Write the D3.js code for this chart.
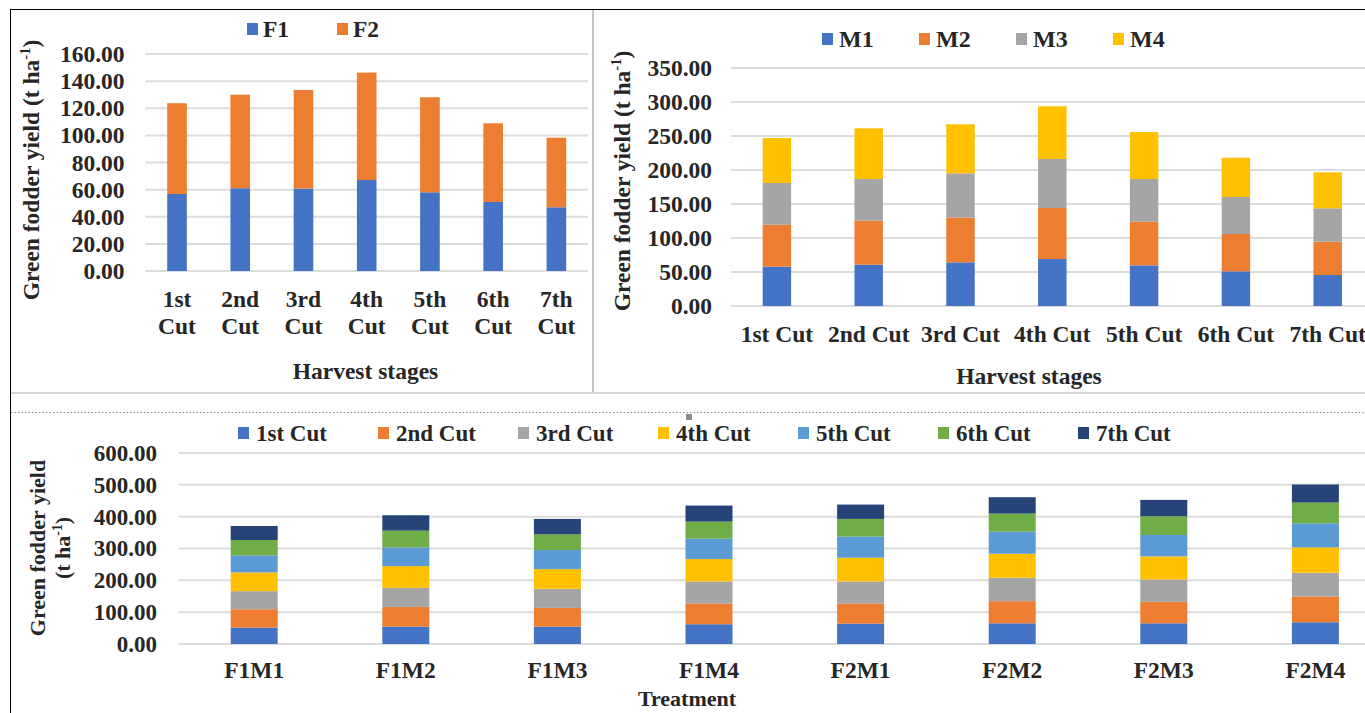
<!DOCTYPE html>
<html>
<head>
<meta charset="utf-8">
<script src="https://cdn.jsdelivr.net/npm/d3@7"></script>
<style>
  html, body { margin: 0; padding: 0; background: #fff; }
  svg { display: block; }
  text { font-family: "Liberation Serif", "Times New Roman", serif; font-weight: bold; fill: #262626; }
</style>
</head>
<body>
<svg id="chart" width="1365" height="713"></svg>
<script>
// ---------- DATA ----------
const cuts = ["1st Cut", "2nd Cut", "3rd Cut", "4th Cut", "5th Cut", "6th Cut", "7th Cut"];

// Chart A: F levels by harvest stage
const fSeries = ["F1", "F2"];
const F1 = [56.8, 61.0, 60.7, 67.1, 58.0, 50.9, 47.0];
const F2 = [66.9, 69.0, 72.8, 79.2, 70.1, 58.0, 51.3];
const yTicksA = [0, 20, 40, 60, 80, 100, 120, 140, 160];

// Chart B: M levels by harvest stage
const mSeries = ["M1", "M2", "M3", "M4"];
const M1 = [57.8, 60.8, 64.2, 69.1, 59.8, 51.0, 45.6];
const M2 = [61.8, 64.7, 65.7, 75.0, 64.2, 54.9, 49.0];
const M3 = [61.3, 61.3, 65.2, 72.1, 62.8, 54.4, 49.0];
const M4 = [66.2, 74.5, 72.1, 77.4, 69.1, 57.8, 53.0];
const yTicksB = [0, 50, 100, 150, 200, 250, 300, 350];

// Chart C: treatments, stacked by cut
const treatments = ["F1M1", "F1M2", "F1M3", "F1M4", "F2M1", "F2M2", "F2M3", "F2M4"];
const cut1 = [51.5, 54.6, 54.6, 62.0, 64.1, 65.1, 65.1, 68.3];
const cut2 = [57.7, 62.0, 58.8, 65.1, 63.0, 69.4, 67.3, 80.9];
const cut3 = [56.8, 59.9, 59.9, 69.3, 69.3, 73.5, 70.3, 74.5];
const cut4 = [58.8, 68.2, 62.0, 70.4, 74.6, 75.6, 72.5, 79.9];
const cut5 = [53.6, 58.9, 59.9, 64.1, 66.2, 69.3, 67.2, 75.6];
const cut6 = [48.3, 52.5, 49.3, 53.6, 55.7, 56.8, 58.9, 65.1];
const cut7 = [44.1, 48.3, 48.4, 50.4, 45.1, 51.4, 51.4, 56.8];
const yTicksC = [0, 100, 200, 300, 400, 500, 600];

// ---------- STYLE ----------
const colorsF = ["#4472C4", "#ED7D31"];
const colorsM = ["#4472C4", "#ED7D31", "#A5A5A5", "#FFC000"];
const colorsCut = ["#4472C4", "#ED7D31", "#A5A5A5", "#FFC000", "#5B9BD5", "#70AD47", "#264478"];
const gridColor = "#dcdcdc";
const fmt = d3.format(".2f");

const svg = d3.select("#chart");
svg.append("rect").attr("width", 1365).attr("height", 713).attr("fill", "#fff");

// frame lines
svg.append("line").attr("x1", 10).attr("x2", 1365).attr("y1", 9.5).attr("y2", 9.5).attr("stroke", "#000").attr("stroke-width", 1);
svg.append("line").attr("x1", 10.5).attr("x2", 10.5).attr("y1", 9).attr("y2", 713).attr("stroke", "#000").attr("stroke-width", 1);
svg.append("line").attr("x1", 593).attr("x2", 593).attr("y1", 10).attr("y2", 393).attr("stroke", "#c4c4c4").attr("stroke-width", 2);
svg.append("line").attr("x1", 11).attr("x2", 1365).attr("y1", 393).attr("y2", 393).attr("stroke", "#d4d4d4").attr("stroke-width", 2);
svg.append("line").attr("x1", 11).attr("x2", 1365).attr("y1", 412.5).attr("y2", 412.5).attr("stroke", "#8c8c8c").attr("stroke-width", 1).attr("stroke-dasharray", "1.5,2");
svg.append("rect").attr("x", 686).attr("y", 414).attr("width", 6).attr("height", 6).attr("fill", "#8a8a8a");

function drawChart(cfg) {
  const g = svg.append("g");
  const x = d3.scaleBand().domain(cfg.categories).range(cfg.xRange).paddingInner(0.69).paddingOuter(0.345);
  const y = d3.scaleLinear().domain(cfg.yDomain).range(cfg.yRange);

  // gridlines
  g.selectAll("line.grid").data(cfg.yTicks).join("line")
    .attr("x1", cfg.gridX[0]).attr("x2", cfg.gridX[1])
    .attr("y1", d => y(d)).attr("y2", d => y(d))
    .attr("stroke", gridColor).attr("stroke-width", 2);

  // y axis labels via d3 axis
  const yAxis = d3.axisLeft(y).tickValues(cfg.yTicks).tickFormat(fmt).tickSize(0).tickPadding(0);
  const ya = g.append("g").attr("transform", `translate(${cfg.yLabelX},0)`).call(yAxis);
  ya.select(".domain").remove();
  ya.selectAll("text").attr("font-size", cfg.tickFont).attr("fill", "#262626")
    .attr("font-family", "Liberation Serif").attr("font-weight", "bold");

  // stacked bars
  const rows = cfg.categories.map((c, i) => {
    const o = { cat: c };
    cfg.series.forEach((s, k) => { o[s] = cfg.values[k][i]; });
    return o;
  });
  const stacked = d3.stack().keys(cfg.series)(rows);
  stacked.forEach((layer, k) => {
    g.selectAll(null).data(layer).join("rect")
      .attr("x", d => x(d.data.cat))
      .attr("width", x.bandwidth())
      .attr("y", d => y(d[1]))
      .attr("height", d => y(d[0]) - y(d[1]))
      .attr("fill", cfg.colors[k]);
  });

  // x labels
  const xa = g.append("g");
  cfg.categories.forEach(c => {
    const lines = cfg.wrapLabels ? c.split(" ") : [c];
    const t = xa.append("text").attr("text-anchor", "middle").attr("font-size", cfg.catFont)
      .attr("x", x(c) + x.bandwidth() / 2).attr("y", cfg.catY);
    lines.forEach((ln, i) => {
      t.append("tspan").attr("x", x(c) + x.bandwidth() / 2).attr("dy", i === 0 ? 0 : cfg.catLineH).text(ln);
    });
  });

  // x title
  g.append("text").attr("text-anchor", "middle").attr("font-size", cfg.xTitleFont || cfg.titleFont)
    .attr("x", cfg.xTitle[0]).attr("y", cfg.xTitle[1]).text(cfg.xTitleText);

  // y title (rotated)
  cfg.yTitles.forEach(yt => {
    const fs = yt.font || cfg.titleFont;
    const t = g.append("text").attr("text-anchor", "middle").attr("font-size", fs)
      .attr("transform", `translate(${yt.x},${yt.y}) rotate(-90)`);
    yt.parts.forEach(p => {
      const sp = t.append("tspan").text(p.t);
      if (p.sup) sp.attr("font-size", fs * 0.62).attr("dy", -fs * 0.38);
      if (p.after) sp.attr("dy", fs * 0.38);
    });
  });

  // legend
  cfg.series.forEach((s, k) => {
    const lx = cfg.legendX[k];
    g.append("rect").attr("x", lx).attr("y", cfg.legendY - 6).attr("width", 11).attr("height", 12).attr("fill", cfg.colors[k]);
    g.append("text").attr("x", lx + cfg.legendGap).attr("y", cfg.legendY).attr("dy", "0.35em")
      .attr("font-size", cfg.legendFont).text(cfg.legendLabels ? cfg.legendLabels[k] : s);
  });
}

const yTitleParts = [{ t: "Green fodder yield (t ha" }, { t: "-1", sup: true }, { t: ")", after: true }];

// Chart A
drawChart({
  categories: cuts, series: fSeries, values: [F1, F2], colors: colorsF,
  xRange: [145.4, 588], yDomain: [0, 160], yRange: [271, 54], yTicks: yTicksA,
  gridX: [145.4, 588], yLabelX: 124.5, tickFont: 23.5,
  wrapLabels: true, catY: 307, catLineH: 27, catFont: 23.5,
  titleFont: 23.5, xTitle: [365.5, 379], xTitleText: "Harvest stages",
  yTitles: [{ x: 39, y: 170, parts: yTitleParts }],
  legendX: [247, 337], legendY: 29, legendFont: 23.5, legendGap: 16
});

// Chart B
drawChart({
  categories: cuts, series: mSeries, values: [M1, M2, M3, M4], colors: colorsM,
  xRange: [731, 731 + 7 * 91.8], yDomain: [0, 350], yRange: [306, 68], yTicks: yTicksB,
  gridX: [731, 1365], yLabelX: 712, tickFont: 23.5,
  wrapLabels: false, catY: 342, catLineH: 0, catFont: 23.5,
  titleFont: 23.5, xTitle: [1029, 384], xTitleText: "Harvest stages",
  yTitles: [{ x: 630, y: 181, parts: yTitleParts }],
  legendX: [822, 919, 1016, 1113], legendY: 39, legendFont: 24, legendGap: 17
});

// Chart C
drawChart({
  categories: treatments, series: ["c1", "c2", "c3", "c4", "c5", "c6", "c7"],
  legendLabels: cuts,
  values: [cut1, cut2, cut3, cut4, cut5, cut6, cut7], colors: colorsCut,
  xRange: [178.4, 178.4 + 8 * 151.6], yDomain: [0, 600], yRange: [644, 453], yTicks: yTicksC,
  gridX: [178.6, 1365], yLabelX: 157, tickFont: 23,
  wrapLabels: false, catY: 678, catLineH: 0, catFont: 23.5,
  titleFont: 23, xTitleFont: 22, xTitle: [687, 706], xTitleText: "Treatment",
  yTitles: [
    { x: 45, y: 548, font: 22, parts: [{ t: "Green fodder yield" }] },
    { x: 70, y: 548, font: 22, parts: [{ t: "(t ha" }, { t: "-1", sup: true }, { t: ")", after: true }] }
  ],
  legendX: [238, 378, 518, 658, 798, 938, 1078], legendY: 433, legendFont: 23, legendGap: 18
});
</script>
</body>
</html>
